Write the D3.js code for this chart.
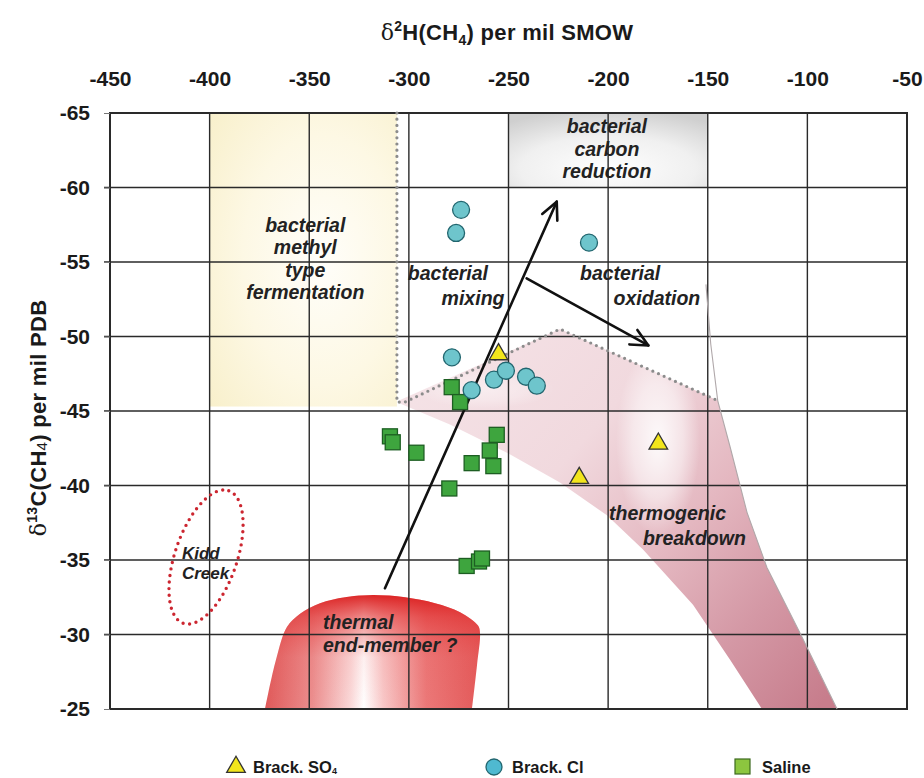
<!DOCTYPE html>
<html>
<head>
<meta charset="utf-8">
<script src="https://cdn.jsdelivr.net/npm/d3@7"></script>
<style>
  body { margin: 0; background: #fff; }
  svg { display: block; }
  text { font-family: "Liberation Sans", Arial, Helvetica, sans-serif; }
</style>
</head>
<body>
<svg id="chart" width="924" height="778"></svg>
<script>
// ---- axis ticks ----
const xTicks = [-450, -400, -350, -300, -250, -200, -150, -100, -50];   // δ2H, per mil SMOW
const yTicks = [-65, -60, -55, -50, -45, -40, -35, -30, -25];           // δ13C, per mil PDB

// ---- samples: δ2H (x) and δ13C (y) ----
const brackSO4_dH = [-255.0, -214.5, -174.8];
const brackSO4_dC = [-48.9, -40.6, -42.9];

const brackCl_dH = [-273.8, -276.3, -209.6, -278.4, -268.5, -257.3, -251.3, -241.2, -235.8];
const brackCl_dC = [-58.5, -56.95, -56.3, -48.6, -46.4, -47.1, -47.7, -47.3, -46.7];

const saline_dH = [-278.5, -274.3, -309.5, -308.1, -296.2, -255.9, -259.4, -268.5, -257.6, -279.7, -271.0, -264.8, -263.3];
const saline_dC = [-46.6, -45.6, -43.3, -42.9, -42.2, -43.4, -42.35, -41.5, -41.3, -39.8, -34.6, -34.9, -35.1];

// ---- genetic fields (δ2H, δ13C) ----
const methylField = [[-400, -65], [-306, -45.3]];
const carbonReductionField = [[-250, -65], [-150, -60]];
const thermogenicBand = [
  [-305, -45.7], [-224.2, -50.5], [-145, -45.7], [-138.8, -42.6], [-130.3, -38.2],
  [-120.3, -34.5], [-103.7, -30.1], [-85.1, -25], [-122.8, -25], [-138.8, -28.3],
  [-157.4, -32.0], [-182.5, -35.7], [-200.6, -38.0], [-224.2, -40.2], [-250.8, -42.2],
  [-279.4, -44.1], [-304.5, -45.5]
];
const thermogenicEdge = [
  [-150.9, -53.5], [-148.5, -49.5], [-145, -45.7], [-138.8, -42.6], [-130.3, -38.2],
  [-120.3, -34.5], [-103.7, -30.1], [-85.1, -25]
];
const bacterialBoundary = [[-306, -65], [-306, -45.6], [-302, -45.6], [-224.2, -50.5], [-145, -45.7]];
const thermalEndMember = [
  [-372.2, -25], [-366.7, -28.3], [-361.2, -30.5], [-354.6, -31.4], [-344.6, -32.1],
  [-332.1, -32.5], [-318.0, -32.65], [-301.9, -32.5], [-286.9, -32.1], [-274.3, -31.5],
  [-265.3, -30.6], [-264.3, -30.1], [-265.8, -27.95], [-268.3, -25]
];
// Kidd Creek ellipse: centre, half major axis, half minor axis (δ2H, δ13C)
const kiddCentre = [-401.8, -35.2];
const kiddMajor = [11.4, -4.45];
const kiddMinor = [14.7, 0.68];

// ---- process arrows: [tail, tip] ----
const arrows = [
  [[-312.0, -33.1], [-225.8, -59.05]],
  [[-240.9, -53.9], [-179.8, -49.4]]
];

// ---- field labels ----
const fieldLabels = [
  { lines: ["bacterial", "methyl", "type", "fermentation"], pos: [[-352, -57.5]], anchor: "middle" },
  { lines: ["bacterial", "carbon", "reduction"], pos: [[-200.6, -64.1]], anchor: "middle" },
  { lines: ["bacterial", "mixing"], pos: [[-280.4, -54.26], [-267.8, -52.6]], anchor: "middle" },
  { lines: ["bacterial", "oxidation"], pos: [[-194, -54.26], [-175.5, -52.6]], anchor: "middle" },
  { lines: ["thermogenic", "breakdown"], pos: [[-170.2, -38.15], [-156.7, -36.5]], anchor: "middle" },
  { lines: ["thermal", "end-member ?"], pos: [[-343.1, -30.84]], anchor: "start" },
  { lines: ["Kidd", "Creek"], pos: [[-413.9, -35.5]], anchor: "start", small: true }
];

const x = d3.scaleLinear().domain([-450, -50]).range([110, 907]);
const y = d3.scaleLinear().domain([-65, -25]).range([113, 709]);

const svg = d3.select("#chart");
const defs = svg.append("defs");

function grad(type, id, attrs, stops) {
  const g = defs.append(type).attr("id", id);
  Object.entries(attrs).forEach(([k, v]) => g.attr(k, v));
  stops.forEach(([o, c, op]) => g.append("stop").attr("offset", o).attr("stop-color", c).attr("stop-opacity", op == null ? 1 : op));
  return g;
}

grad("radialGradient", "gYellow", { cx: 0.6, cy: 0.5, r: 0.85 },
  [[0, "#fffefa"], [0.5, "#fdf8e4"], [1, "#f7eec6"]]);
grad("radialGradient", "gGrey", { cx: 0.5, cy: 0.75, r: 0.8 },
  [[0, "#fefefe"], [0.55, "#f0f0f0"], [1, "#cfcfcf"]]);
grad("linearGradient", "gBand", { gradientUnits: "userSpaceOnUse", x1: x(-300), y1: y(-49), x2: x(-95), y2: y(-25) },
  [[0, "#f5e3e7"], [0.35, "#f1d9de"], [0.6, "#e4b7c0"], [0.8, "#d498a5"], [1, "#c77d8c"]]);
grad("radialGradient", "gBandLight", { cx: 0.5, cy: 0.5, r: 0.5 },
  [[0, "#ffffff", 0.9], [0.6, "#ffffff", 0.5], [1, "#ffffff", 0]]);
grad("linearGradient", "gDomeH", { gradientUnits: "userSpaceOnUse", x1: x(-372.2), y1: 0, x2: x(-264.3), y2: 0 },
  [[0, "#e05a5a"], [0.22, "#eb8e8e"], [0.4, "#fadada"], [0.46, "#ffffff"], [0.55, "#f8c8c8"], [0.75, "#eb7878"], [1, "#e35a5a"]]);
grad("linearGradient", "gDomeV", { gradientUnits: "userSpaceOnUse", x1: 0, y1: y(-32.7), x2: 0, y2: y(-25) },
  [[0, "#d91818", 0.95], [0.2, "#e02a2a", 0.55], [0.55, "#e84040", 0.08], [1, "#e84040", 0]]);

const line = d3.line().x(d => x(d[0])).y(d => y(d[1]));
const smooth = d3.line().x(d => x(d[0])).y(d => y(d[1])).curve(d3.curveCatmullRom.alpha(0.5));

// ---- fields ----
const fields = svg.append("g");
fields.append("rect")
  .attr("x", x(methylField[0][0])).attr("y", y(methylField[0][1]))
  .attr("width", x(methylField[1][0]) - x(methylField[0][0]))
  .attr("height", y(methylField[1][1]) - y(methylField[0][1]))
  .attr("fill", "url(#gYellow)");
fields.append("rect")
  .attr("x", x(carbonReductionField[0][0])).attr("y", y(carbonReductionField[0][1]))
  .attr("width", x(carbonReductionField[1][0]) - x(carbonReductionField[0][0]))
  .attr("height", y(carbonReductionField[1][1]) - y(carbonReductionField[0][1]))
  .attr("fill", "url(#gGrey)");

defs.append("clipPath").attr("id", "clipBand").append("path").attr("d", line(thermogenicBand) + "Z");
fields.append("path").attr("d", line(thermogenicBand) + "Z").attr("fill", "url(#gBand)");
fields.append("ellipse").attr("clip-path", "url(#clipBand)")
  .attr("cx", x(-175)).attr("cy", y(-43)).attr("rx", 42).attr("ry", 95)
  .attr("fill", "url(#gBandLight)");
fields.append("ellipse").attr("clip-path", "url(#clipBand)")
  .attr("cx", x(-262)).attr("cy", y(-46.5)).attr("rx", 70).attr("ry", 20)
  .attr("fill", "url(#gBandLight)").attr("opacity", 0.5);

fields.append("path").attr("d", smooth(thermalEndMember) + "Z").attr("fill", "url(#gDomeH)");
fields.append("path").attr("d", smooth(thermalEndMember) + "Z").attr("fill", "url(#gDomeV)");

// ---- grid and frame ----
const grid = svg.append("g").attr("stroke", "#2a2a2a").attr("stroke-width", 1.4);
xTicks.slice(1, -1).forEach(v => grid.append("line")
  .attr("x1", x(v)).attr("x2", x(v)).attr("y1", y(-65)).attr("y2", y(-25)));
yTicks.slice(1, -1).forEach(v => grid.append("line")
  .attr("x1", x(-450) - 6).attr("x2", x(-50)).attr("y1", y(v)).attr("y2", y(v)));
svg.append("rect")
  .attr("x", x(-450)).attr("y", y(-65))
  .attr("width", x(-50) - x(-450)).attr("height", y(-25) - y(-65))
  .attr("fill", "none").attr("stroke", "#2a2a2a").attr("stroke-width", 2);

// ---- axes (labels only) ----
const xAxis = svg.append("g").attr("transform", `translate(0,${y(-65)})`)
  .call(d3.axisTop(x).tickValues(xTicks).tickSize(0).tickPadding(27));
const yAxis = svg.append("g").attr("transform", `translate(${x(-450)},0)`)
  .call(d3.axisLeft(y).tickValues(yTicks).tickSize(6).tickPadding(14));
[xAxis, yAxis].forEach(a => {
  a.select(".domain").remove();
  a.selectAll("text").attr("font-size", 21).attr("font-weight", "bold").attr("fill", "#1a1a1a")
    .style("font-family", '"Liberation Sans", Arial, sans-serif')
    .text(d => String(d));
  a.selectAll("line").attr("stroke", "#777");
});

// axis titles
const xTitle = svg.append("text").attr("x", 507).attr("y", 40).attr("text-anchor", "middle")
  .attr("font-size", 22).attr("font-weight", "bold").attr("fill", "#1a1a1a").attr("letter-spacing", 0.3);
xTitle.append("tspan").text("δ").attr("font-weight", "normal").style("font-family", '"DejaVu Serif", serif');
xTitle.append("tspan").text("2").attr("font-size", 14).attr("dy", -9);
xTitle.append("tspan").text("H(CH").attr("dy", 9);
xTitle.append("tspan").text("4").attr("font-size", 14).attr("dy", 5);
xTitle.append("tspan").text(") per mil SMOW").attr("dy", -5);

const yTitle = svg.append("text").attr("transform", "translate(46,418) rotate(-90)").attr("text-anchor", "middle")
  .attr("font-size", 22).attr("font-weight", "bold").attr("fill", "#1a1a1a").attr("letter-spacing", 0.3);
yTitle.append("tspan").text("δ").attr("font-weight", "normal").style("font-family", '"DejaVu Serif", serif');
yTitle.append("tspan").text("13").attr("font-size", 14).attr("dy", -9);
yTitle.append("tspan").text("C(CH").attr("dy", 9);
yTitle.append("tspan").text("4").attr("font-size", 15).attr("font-weight", "normal").attr("dy", 1);
yTitle.append("tspan").text(") per mil PDB").attr("dy", -1);

// ---- boundaries ----
svg.append("path").attr("d", line(thermogenicEdge)).attr("fill", "none")
  .attr("stroke", "#b0a8aa").attr("stroke-width", 1.1);
svg.append("path").attr("d", line(bacterialBoundary)).attr("fill", "none")
  .attr("stroke", "#8c8c8c").attr("stroke-width", 3.2)
  .attr("stroke-linecap", "round").attr("stroke-dasharray", "0 6.2");

const kidd = d3.range(0, 361, 3).map(a => {
  const t = a * Math.PI / 180;
  return [kiddCentre[0] + Math.cos(t) * kiddMajor[0] + Math.sin(t) * kiddMinor[0],
          kiddCentre[1] + Math.cos(t) * kiddMajor[1] + Math.sin(t) * kiddMinor[1]];
});
svg.append("path").attr("d", line(kidd) + "Z").attr("fill", "none")
  .attr("stroke", "#cc2630").attr("stroke-width", 3.4)
  .attr("stroke-linecap", "round").attr("stroke-dasharray", "0 6.6");

// ---- arrows ----
const arrowG = svg.append("g").attr("stroke", "#111").attr("stroke-width", 2.6)
  .attr("fill", "none").attr("stroke-linecap", "round").attr("stroke-linejoin", "round");
arrows.forEach(([a, b]) => {
  const x1 = x(a[0]), y1 = y(a[1]), x2 = x(b[0]), y2 = y(b[1]);
  const ang = Math.atan2(y2 - y1, x2 - x1);
  arrowG.append("line").attr("x1", x1).attr("y1", y1).attr("x2", x2).attr("y2", y2);
  const L = 19, spread = 0.45;
  const p1 = [x2 - L * Math.cos(ang - spread), y2 - L * Math.sin(ang - spread)];
  const p2 = [x2 - L * Math.cos(ang + spread), y2 - L * Math.sin(ang + spread)];
  arrowG.append("path").attr("d", `M${p1[0]},${p1[1]}L${x2},${y2}L${p2[0]},${p2[1]}`);
});

// ---- field labels ----
const labelG = svg.append("g").attr("fill", "#222").attr("font-weight", "bold").attr("font-style", "italic");
fieldLabels.forEach(lb => {
  const fs = lb.small ? 17 : 19.5;
  const lh = lb.small ? 20 : 22.5;
  lb.lines.forEach((s, i) => {
    const p = lb.pos[i] || lb.pos[0];
    const yy = lb.pos[i] ? y(p[1]) : y(lb.pos[0][1]) + i * lh;
    labelG.append("text").attr("x", x(p[0])).attr("y", yy).attr("dy", "0.36em")
      .attr("text-anchor", lb.anchor).attr("font-size", fs).text(s);
  });
});

// ---- samples ----
const pts = svg.append("g");
const tri = d3.symbol().type(d3.symbolTriangle).size(150);
const sq = 15;
saline_dH.forEach((h, i) => {
  pts.append("rect").attr("x", x(h) - sq / 2).attr("y", y(saline_dC[i]) - sq / 2)
    .attr("width", sq).attr("height", sq)
    .attr("fill", "#3ea53e").attr("stroke", "#1d5e22").attr("stroke-width", 1.3);
});
brackCl_dH.forEach((h, i) => {
  pts.append("circle").attr("cx", x(h)).attr("cy", y(brackCl_dC[i])).attr("r", 8.5)
    .attr("fill", "#6ec5cc").attr("stroke", "#22666f").attr("stroke-width", 1.3);
});
brackSO4_dH.forEach((h, i) => {
  pts.append("path").attr("d", tri).attr("transform", `translate(${x(h)},${y(brackSO4_dC[i]) + 1.5})`)
    .attr("fill", "#f2e51c").attr("stroke", "#333").attr("stroke-width", 1.3);
});

// ---- legend ----
const lg = svg.append("g").attr("font-size", 16.5).attr("font-weight", "bold").attr("fill", "#1a1a1a");
lg.append("path").attr("d", tri).attr("transform", "translate(236,767)")
  .attr("fill", "#f2e51c").attr("stroke", "#333").attr("stroke-width", 1.3);
const t1 = lg.append("text").attr("x", 253).attr("y", 773);
t1.append("tspan").text("Brack. SO");
t1.append("tspan").text("4").attr("font-size", 9).attr("dy", 1);
lg.append("circle").attr("cx", 494).attr("cy", 767).attr("r", 8)
  .attr("fill", "#4fb9d0").attr("stroke", "#22666f").attr("stroke-width", 1.3);
lg.append("text").attr("x", 512).attr("y", 773).text("Brack. Cl");
lg.append("rect").attr("x", 735).attr("y", 759).attr("width", 15).attr("height", 15)
  .attr("fill", "#8cc63f").attr("stroke", "#3d6a1f").attr("stroke-width", 1.2);
lg.append("text").attr("x", 762).attr("y", 773).text("Saline");
</script>
</body>
</html>
